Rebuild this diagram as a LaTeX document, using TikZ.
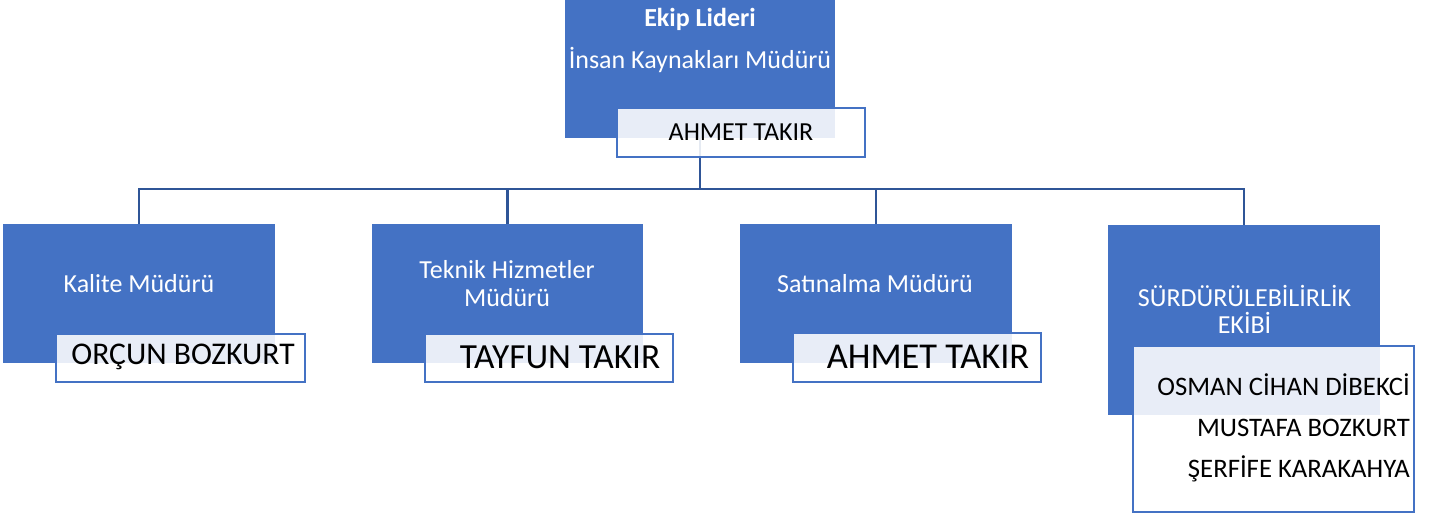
\documentclass[tikz,border=0pt]{standalone}
\usepackage{fontspec}
\setmainfont{Carlito}
\usepackage{tikz}
\definecolor{unitblue}{RGB}{68, 114, 196}
\definecolor{linkblue}{RGB}{47, 85, 151}
\newcommand{\fsz}[1]{\fontsize{#1}{#1}\selectfont}

\begin{document}
\begin{tikzpicture}[x=1pt, y=-1pt,
    unitbox/.style={rectangle, fill=unitblue, draw=none, inner sep=0pt},
    unittext/.style={text=white, inner sep=0pt, align=center},
    namebox/.style={rectangle, draw=unitblue, line width=2pt, fill=white, fill opacity=0.88, text opacity=1, inner sep=0pt},
    nametext/.style={text=black, inner sep=0pt},
    link/.style={draw=linkblue, line width=2.2pt}]
    \useasboundingbox (0,0) rectangle (1434,516);

    % Top: team leader
    \node[unitbox, minimum width=270pt, minimum height=138pt] (lider) at (700,69) {};
    \node[unittext, font=\fsz{26}\bfseries] (liderbas) at (700,19) {Ekip Lideri};
    \node[unittext, font=\fsz{26}] (liderunvan) at (700,60) {İnsan Kaynakları Müdürü};

    % Departments
    \node[unitbox, minimum width=272pt, minimum height=139pt] (kalite) at (139,293.5) {};
    \node[unitbox, minimum width=271pt, minimum height=139pt] (teknik) at (507.5,293.5) {};
    \node[unitbox, minimum width=272pt, minimum height=139pt] (satin) at (876,293.5) {};
    \node[unitbox, minimum width=272pt, minimum height=190pt] (surdur) at (1244,320) {};

    \node[unittext, font=\fsz{26}] (kalitet) at (139,283.5) {Kalite Müdürü};
    \node[unittext, font=\fontsize{26}{28}\selectfont] (teknikt) at (507,284) {Teknik Hizmetler\\Müdürü};
    \node[unittext, font=\fsz{26}] (satint) at (875,283.5) {Satınalma Müdürü};
    \node[unittext, font=\fontsize{26}{27}\selectfont] (surdurt) at (1244.5,309) {SÜRDÜRÜLEBİLİRLİK\\EKİBİ};

    % Connections
    \coordinate (bus) at (700,189);
    \draw[link] (lider.south) -- (bus);
    \foreach \u in {kalite, teknik, satin, surdur} {
        \draw[link] (bus) -| (\u.north);
    }

    % Names
    \node[namebox, minimum width=248pt, minimum height=49pt] (liderad) at (741,132.5) {};
    \node[nametext, font=\fsz{26}] at (741,132) {AHMET TAKIR};

    \node[namebox, minimum width=249pt, minimum height=48pt] (kalitead) at (180.5,358) {};
    \node[nametext, font=\fsz{31.6}] at (183,357) {ORÇUN BOZKURT};

    \node[namebox, minimum width=248pt, minimum height=48pt] (teknikad) at (549,358) {};
    \node[nametext, font=\fsz{35.3}] at (560,357) {TAYFUN TAKIR};

    \node[namebox, minimum width=248pt, minimum height=49pt] (satinad) at (917,357.5) {};
    \node[nametext, font=\fsz{36.4}] at (928,357) {AHMET TAKIR};

    \node[namebox, minimum width=281pt, minimum height=166pt] (surdurad) at (1273.5,429) {};
    \node[nametext, font=\fsz{26.7}, anchor=base east] (uye1) at (1410,395) {OSMAN CİHAN DİBEKCİ};
    \node[nametext, font=\fsz{26.7}, anchor=base east] (uye2) at (1410,436) {MUSTAFA BOZKURT};
    \node[nametext, font=\fsz{26.7}, anchor=base east] (uye3) at (1410,477) {ŞERFİFE KARAKAHYA};
\end{tikzpicture}
\end{document}
